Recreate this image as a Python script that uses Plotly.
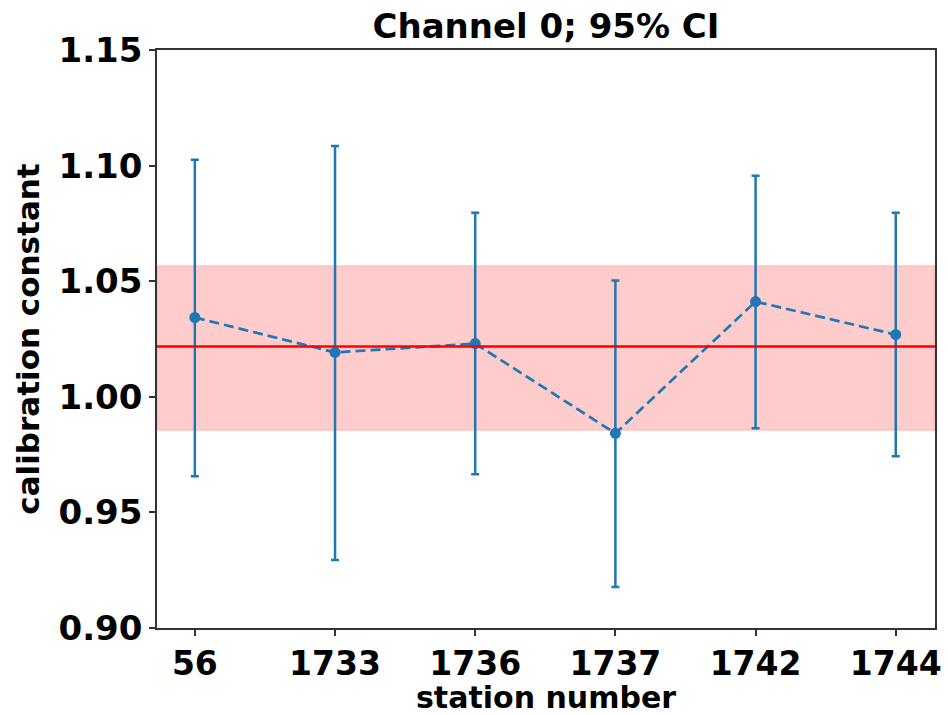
import plotly.graph_objects as go

# Per-station calibration constants with 95% confidence intervals
stations = ["56", "1733", "1736", "1737", "1742", "1744"]
cal_const = [1.0343, 1.0192, 1.0230, 0.9842, 1.0412, 1.0269]
ci_upper = [1.1025, 1.1085, 1.0796, 1.0503, 1.0956, 1.0796]
ci_lower = [0.9656, 0.9294, 0.9665, 0.9177, 0.9864, 0.9743]

# Combined estimate and its confidence band
combined_mean = 1.0218
band_low = 0.9855
band_high = 1.0567

y_ticks = [0.90, 0.95, 1.00, 1.05, 1.10, 1.15]

err_plus = [u - v for u, v in zip(ci_upper, cal_const)]
err_minus = [v - l for v, l in zip(cal_const, ci_lower)]

BLUE = "#1f77b4"
FONT = "DejaVu Sans"

fig = go.Figure()

fig.add_shape(type="rect", xref="paper", x0=0, x1=1, yref="y",
              y0=band_low, y1=band_high,
              fillcolor="rgba(255,0,0,0.2)",
              line=dict(color="rgba(255,0,0,0.12)", width=1.5),
              layer="below")
fig.add_shape(type="line", xref="paper", x0=0, x1=1, yref="y",
              y0=combined_mean, y1=combined_mean,
              line=dict(color="red", width=2.5), layer="above")

fig.add_trace(go.Scatter(
    x=stations, y=cal_const,
    mode="lines+markers",
    line=dict(color=BLUE, width=2.7, dash="10px,5px"),
    marker=dict(color=BLUE, size=11),
    error_y=dict(type="data", symmetric=False,
                 array=err_plus, arrayminus=err_minus,
                 color=BLUE, thickness=2.5, width=4),
    showlegend=False,
))

axis_common = dict(
    showline=True, linecolor="#333333", linewidth=1.5, mirror=True,
    ticks="outside", ticklen=6, tickwidth=1.5, tickcolor="#333333",
    showgrid=False, zeroline=False, automargin=False,
)

fig.update_layout(
    width=948, height=715,
    margin=dict(l=157, r=13, t=50, b=87),
    paper_bgcolor="white", plot_bgcolor="white",
    title=dict(text="<b>Channel 0; 95% CI</b>", x=546 / 948,
               xanchor="center", y=1 - 26 / 715, yanchor="middle",
               font=dict(family=FONT, size=34, color="black")),
    xaxis=dict(
        type="category", range=[-0.27, 5.28],
        tickfont=dict(family=FONT, size=33, color="black", weight="bold"),
        title=dict(text="<b>station number</b>", standoff=6,
                   font=dict(family=FONT, size=30, color="black")),
        **axis_common,
    ),
    yaxis=dict(
        range=[0.90, 1.15], tickvals=y_ticks,
        ticktext=[f"{t:.2f}" for t in y_ticks],
        tickfont=dict(family=FONT, size=34, color="black", weight="bold"),
        title=dict(text="<b>calibration constant</b>", standoff=10,
                   font=dict(family=FONT, size=31, color="black")),
        **axis_common,
    ),
)

fig.write_html("out.html")
